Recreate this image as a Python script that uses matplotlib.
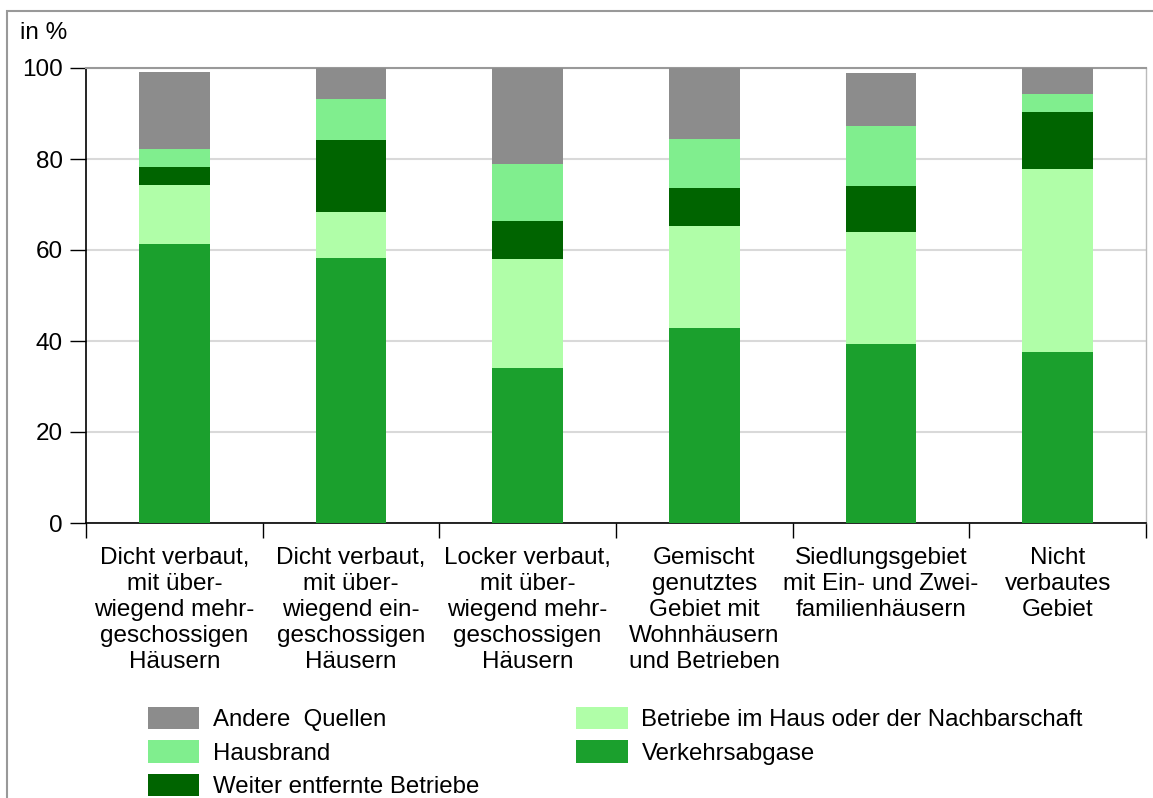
import matplotlib
matplotlib.use("Agg")
import matplotlib.pyplot as plt
from matplotlib.patches import Rectangle
import numpy as np

plt.rcParams['font.family'] = ['Liberation Sans', 'DejaVu Sans']

categories = [
    "Dicht verbaut,\nmit über-\nwiegend mehr-\ngeschossigen\nHäusern",
    "Dicht verbaut,\nmit über-\nwiegend ein-\ngeschossigen\nHäusern",
    "Locker verbaut,\nmit über-\nwiegend mehr-\ngeschossigen\nHäusern",
    "Gemischt\ngenutztes\nGebiet mit\nWohnhäusern\nund Betrieben",
    "Siedlungsgebiet\nmit Ein- und Zwei-\nfamilienhäusern",
    "Nicht\nverbautes\nGebiet",
]

verkehrsabgase = [61.3, 58.3, 34.1, 42.9, 39.3, 37.6]
betriebe_haus = [13.0, 10.0, 23.9, 22.4, 24.7, 40.3]
weiter_betriebe = [4.0, 15.9, 8.4, 8.4, 10.1, 12.5]
hausbrand = [3.8, 8.9, 12.4, 10.6, 13.2, 3.8]
andere_quellen = [17.0, 6.9, 21.2, 15.7, 11.5, 5.8]

series = [
    ("Verkehrsabgase", verkehrsabgase, "#1ba02d"),
    ("Betriebe im Haus oder der Nachbarschaft", betriebe_haus, "#b0fea8"),
    ("Weiter entfernte Betriebe", weiter_betriebe, "#006400"),
    ("Hausbrand", hausbrand, "#80ee8e"),
    ("Andere  Quellen", andere_quellen, "#8c8c8c"),
]

W, H = 1153, 798
fig = plt.figure(figsize=(W / 100, H / 100), dpi=100)

# outer frame
fig.patches.append(Rectangle((7 / W, -0.05), 1.2, 1 - 11 / H + 0.05,
                             transform=fig.transFigure, fill=False,
                             edgecolor="#999999", linewidth=1.5, zorder=0))

ax = fig.add_axes([86 / W, 1 - 523 / H, (1146 - 86) / W, (523 - 68) / H])

x = np.arange(len(categories))
bottom = np.zeros(len(categories))
handles = {}
for name, vals, col in series:
    b = ax.bar(x, vals, 0.4, bottom=bottom, color=col, label=name, zorder=3,
               linewidth=0)
    handles[name] = b
    bottom += np.array(vals)

ax.set_xlim(-0.5, len(categories) - 0.5)
ax.set_ylim(0, 100)
ax.set_yticks([0, 20, 40, 60, 80, 100])
ax.tick_params(axis='y', length=11.5, width=1, labelsize=17.5, pad=5, colors='black')
ax.yaxis.grid(True, color="#d9d9d9", linewidth=1.5, zorder=0)
ax.set_axisbelow(True)

ax.set_xticks(np.arange(-0.5, len(categories), 1.0))
ax.set_xticklabels([])
ax.tick_params(axis='x', which='major', length=11, width=1, direction='out')
ax.set_xticks(x, minor=True)
ax.set_xticklabels(categories, minor=True, fontsize=17.5, linespacing=1.24)
ax.tick_params(axis='x', which='minor', length=0, pad=17)

for s in ['left', 'bottom']:
    ax.spines[s].set_color('black')
    ax.spines[s].set_linewidth(1.2)
ax.spines['top'].set_color('#999999')
ax.spines['top'].set_linewidth(1.5)
ax.spines['right'].set_color('#bbbbbb')
ax.spines['right'].set_linewidth(1)

fig.text(20 / W, 1 - 33 / H, "in %", fontsize=17.5, va='center', ha='left')

order = ["Andere  Quellen", "Hausbrand", "Weiter entfernte Betriebe",
         "Betriebe im Haus oder der Nachbarschaft", "Verkehrsabgase"]
leg = fig.legend([handles[n] for n in order], order, ncol=2, frameon=False,
                 fontsize=17.3, loc='upper left',
                 bbox_to_anchor=(131 / W, 1 - 690 / H),
                 handlelength=2.15, handleheight=1.05, handletextpad=0.58,
                 labelspacing=0.38, columnspacing=4.0, borderpad=0.2)

fig.savefig("out.png", dpi=100)
